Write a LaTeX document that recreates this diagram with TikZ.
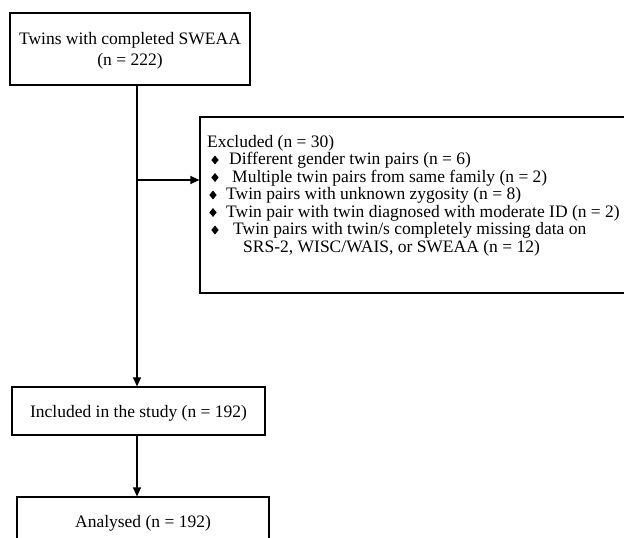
\documentclass[tikz,border=0pt]{standalone}
\usepackage{fontspec}
\setmainfont{Liberation Serif}
\usetikzlibrary{arrows.meta,shapes.geometric}
\begin{document}
\begin{tikzpicture}[x=1pt,y=-1pt,
  box/.style={draw,line width=1.2pt,inner sep=0pt,text depth=0pt,
    font=\fontsize{17.5}{21}\selectfont,align=center},
  txt/.style={anchor=base west,inner sep=0pt,font=\fontsize{17.5}{17.5}\selectfont},
  bul/.style={diamond,fill,inner sep=0pt,minimum width=7.5pt,minimum height=9pt},
  arr/.style={line width=1.2pt,-{Triangle[length=9pt,width=8pt]}}]
\useasboundingbox (0,0) rectangle (624,538);
% boxes
\node[box,minimum width=240pt,minimum height=72pt] (top) at (130,49)
  {Twins with completed SWEAA\\(n = 222)};
\node[box,minimum width=253pt,minimum height=48pt] (inc) at (138.5,411)
  {Included in the study (n = 192)};
\node[box,minimum width=252pt,minimum height=48pt] (ana) at (143,521)
  {Analysed (n = 192)};
\node[draw,line width=1.2pt,minimum width=427pt,minimum height=176pt,inner sep=0pt]
  (exc) at (413.5,205) {};
% excluded text
\node[txt] (e0) at (207,147) {Excluded (n = 30)};
\node[bul] (d1) at (215,160) {};
\node[txt] (e1) at (229,164.5) {Different gender twin pairs (n = 6)};
\node[bul] (d2) at (215,177.5) {};
\node[txt] (e2) at (232,182) {Multiple twin pairs from same family (n = 2)};
\node[bul] (d3) at (213,195) {};
\node[txt] (e3) at (226,199.5) {Twin pairs with unknown zygosity (n = 8)};
\node[bul] (d4) at (213,212.5) {};
\node[txt] (e4) at (226,217) {Twin pair with twin diagnosed with moderate ID (n = 2)};
\node[bul] (d5) at (215,230) {};
\node[txt] (e5) at (233,234.5) {Twin pairs with twin/s completely missing data on};
\node[txt] (e6) at (243,252) {SRS-2, WISC/WAIS, or SWEAA (n = 12)};
% connectors
\coordinate (j) at (137,180);
\draw[arr] (top.south -| j) -- (inc.north -| j);
\draw[arr] (j) -- (j -| exc.west);
\draw[arr] (inc.south -| j) -- (ana.north -| j);
\end{tikzpicture}
\end{document}
